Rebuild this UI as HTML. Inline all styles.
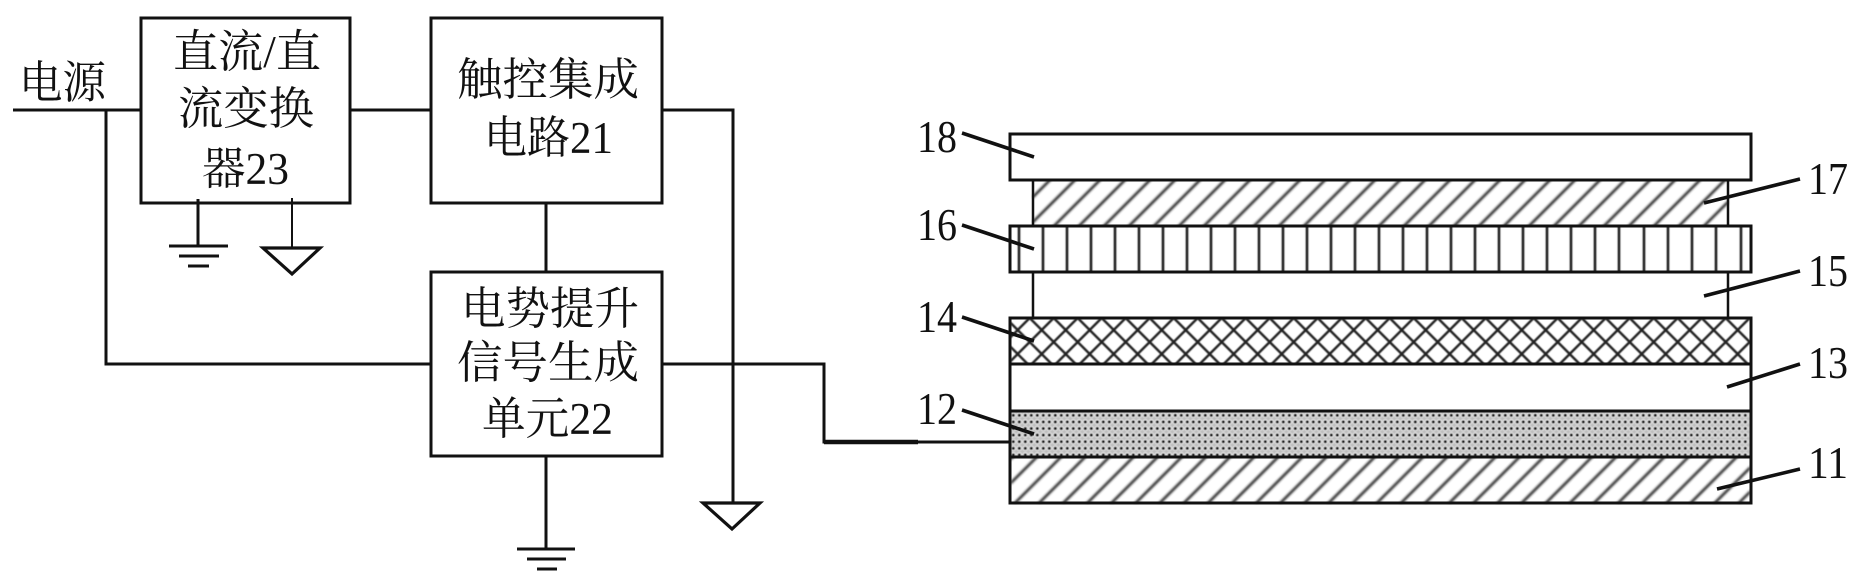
<!DOCTYPE html>
<html><head><meta charset="utf-8"><style>
html,body{margin:0;padding:0;background:#fff}
svg{display:block}
text{font-family:"Liberation Serif","Noto Serif CJK SC",serif;fill:#111}
.c{font-size:45px}
.n{font-size:45px}
</style></head><body>
<svg width="1861" height="584" viewBox="0 0 1861 584" xmlns="http://www.w3.org/2000/svg">
<defs>
<filter id="b" x="-2%" y="-10%" width="104%" height="120%"><feGaussianBlur stdDeviation="1"/></filter>
<filter id="b2" x="-2%" y="-10%" width="104%" height="120%"><feGaussianBlur stdDeviation="0.6"/></filter>
<pattern id="d" width="25" height="25" patternUnits="userSpaceOnUse" patternTransform="translate(2.5,2.5)">
<path d="M-5 30L30 -5M-5 5L5 -5M20 30L30 20" stroke="#222" stroke-width="2.5" fill="none"/></pattern>
<pattern id="e" width="24.13" height="24.13" patternUnits="userSpaceOnUse" patternTransform="translate(10.97,10.97)">
<path d="M-5 29.13L29.13 -5M-5 5L5 -5M19.13 29.13L29.13 19.13" stroke="#222" stroke-width="2.5" fill="none"/></pattern>
<pattern id="x" width="24" height="24" patternUnits="userSpaceOnUse" patternTransform="translate(1041.7,330)">
<path d="M-2 -2L26 26M-2 26L26 -2M-2 2L2 -2M22 26L26 22M22 -2L26 2M-2 22L2 26" stroke="#222" stroke-width="2.4" fill="none"/></pattern>
<pattern id="o" width="6" height="6.6" patternUnits="userSpaceOnUse" patternTransform="translate(1010.3,412)">
<rect width="6" height="6.6" fill="#bebebe"/><circle cx="3" cy="3.3" r="2.7" fill="#fafafa"/><circle cx="3" cy="3.3" r="1.65" fill="#111"/></pattern>
</defs>
<g fill="none" stroke="#111" stroke-width="3">
<rect x="141" y="18" width="209" height="185" fill="#fff"/>
<rect x="431" y="18" width="231" height="185" fill="#fff"/>
<rect x="431" y="272" width="231" height="184" fill="#fff"/>
<path d="M13 110H141M106 110V364H431M350 110H431M662 110H733V503M546 203V272M546 456V549M198 199V246M662 364H824V442H1010"/>
<path d="M292 198V248" stroke-width="2"/>
<path d="M824 442H918" stroke-width="4.5"/>
<path d="M169 246H228M179 256H219M188 266H209M517 549H575M527 559H566M537 569H557"/>
<path d="M263 248H320L292 274ZM703 503H760L732 529Z" stroke-linejoin="miter" stroke-width="3.2"/>

<rect x="1033" y="180" width="695" height="46" fill="url(#d)" stroke="none" filter="url(#b)"/>
<path d="M1033 180V226M1728 180V226M1033 272V318M1728 272V318" stroke-width="2.5"/>
<rect x="1010" y="134" width="741" height="46" fill="#fff"/>
<rect x="1010" y="226" width="741" height="46" fill="#fff"/>
<path d="M1019 226V272M1043 226V272M1067 226V272M1091 226V272M1115 226V272M1139 226V272M1163 226V272M1187 226V272M1211 226V272M1235 226V272M1259 226V272M1283 226V272M1307 226V272M1331 226V272M1355 226V272M1379 226V272M1403 226V272M1427 226V272M1451 226V272M1475 226V272M1499 226V272M1523 226V272M1547 226V272M1571 226V272M1595 226V272M1619 226V272M1644 226V272M1668 226V272M1692 226V272M1716 226V272M1741 226V272" stroke="#222" stroke-width="2.6" filter="url(#b2)"/>
<rect x="1010" y="226" width="741" height="46"/>
<rect x="1011" y="319" width="739" height="45" fill="url(#x)" stroke="none" filter="url(#b2)"/>
<rect x="1011" y="411" width="739" height="46" fill="url(#o)" stroke="none" filter="url(#b2)"/>
<rect x="1011" y="457" width="739" height="46" fill="url(#e)" stroke="none" filter="url(#b)"/>
<path d="M1010 318H1751V503H1010ZM1010 364H1751M1010 411H1751M1010 457H1751"/>
<g stroke-width="3.6">
<path d="M962 133L1034 157M962 225L1034 249M962 317L1034 341M962 410L1034 434"/>
<path d="M1800 179L1704 203M1800 271L1704 296M1800 364L1727 387M1800 469L1717 489"/>
</g>
</g>
<g class="c">
<text x="19" y="98" textLength="87" lengthAdjust="spacingAndGlyphs">电源</text>
<text x="173" y="67" textLength="148" lengthAdjust="spacingAndGlyphs">直流/直</text>
<text x="178" y="124" textLength="136" lengthAdjust="spacingAndGlyphs">流变换</text>
<text x="202" y="184" textLength="87" lengthAdjust="spacingAndGlyphs">器23</text>
<text x="457" y="95" textLength="182" lengthAdjust="spacingAndGlyphs">触控集成</text>
<text x="484" y="153" textLength="129" lengthAdjust="spacingAndGlyphs">电路21</text>
<text x="461" y="324" textLength="178" lengthAdjust="spacingAndGlyphs">电势提升</text>
<text x="457" y="378" textLength="182" lengthAdjust="spacingAndGlyphs">信号生成</text>
<text x="482" y="434" textLength="131" lengthAdjust="spacingAndGlyphs">单元22</text>
</g>
<g class="n">
<text x="917" y="152" textLength="40" lengthAdjust="spacingAndGlyphs">18</text>
<text x="917" y="240" textLength="40" lengthAdjust="spacingAndGlyphs">16</text>
<text x="917" y="332" textLength="40" lengthAdjust="spacingAndGlyphs">14</text>
<text x="917" y="424" textLength="40" lengthAdjust="spacingAndGlyphs">12</text>
<text x="1808" y="194" textLength="40" lengthAdjust="spacingAndGlyphs">17</text>
<text x="1808" y="286" textLength="40" lengthAdjust="spacingAndGlyphs">15</text>
<text x="1808" y="378" textLength="40" lengthAdjust="spacingAndGlyphs">13</text>
<text x="1808" y="478" textLength="40" lengthAdjust="spacingAndGlyphs">11</text>
</g>
</svg>
</body></html>
